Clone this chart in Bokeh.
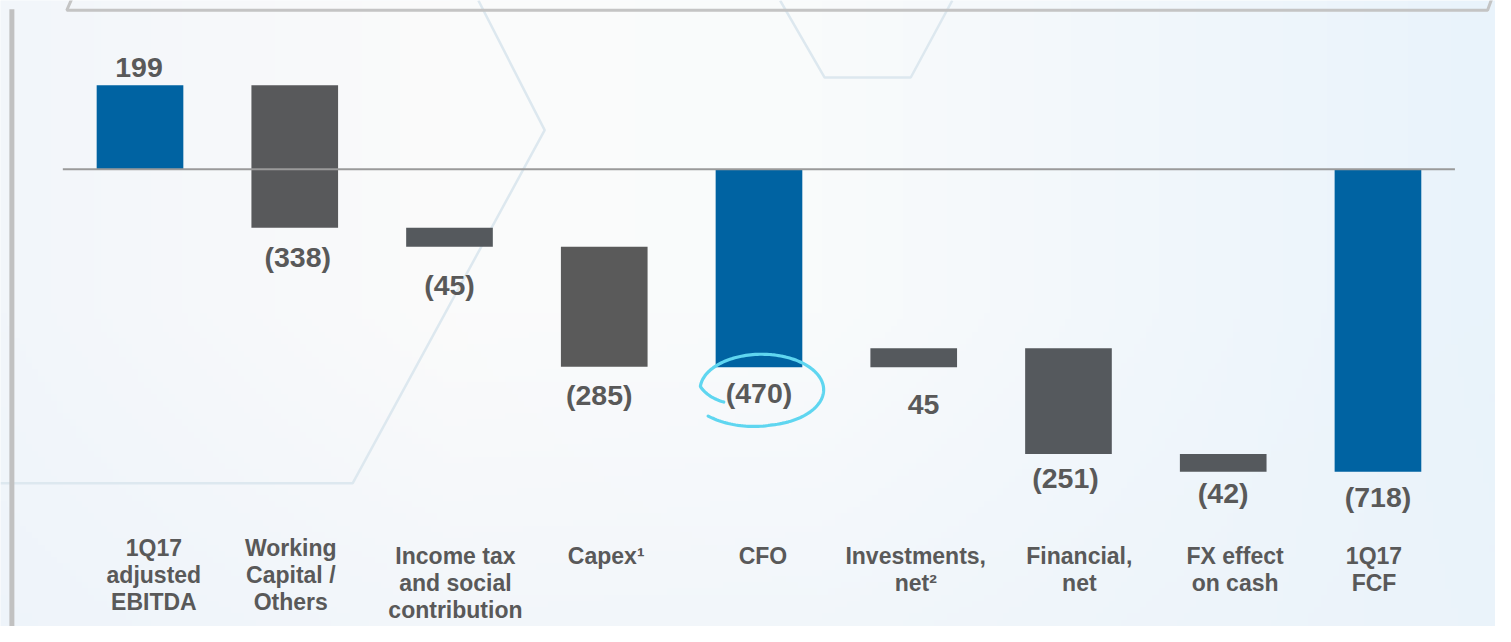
import numpy as np
from bokeh.plotting import figure
from bokeh.models import Range1d, ColumnDataSource
from bokeh.core.properties import value
from bokeh.embed import file_html
from bokeh.resources import INLINE

# ---------------- data ----------------
categories = [
    "1Q17\nadjusted\nEBITDA",
    "Working\nCapital /\nOthers",
    "Income tax\nand social\ncontribution",
    "Capex\u00b9",
    "CFO",
    "Investments,\nnet\u00b2",
    "Financial,\nnet",
    "FX effect\non cash",
    "1Q17\nFCF",
]
values = [199, -338, -45, -285, -470, 45, -251, -42, -718]
bar_kind = ["total", "step", "step", "step", "total", "step", "step", "step", "total"]
value_labels = ["199", "(338)", "(45)", "(285)", "(470)", "45", "(251)", "(42)", "(718)"]
highlight = "(470)"

# ---------------- style / layout ----------------
BLUE = "#0063a2"
GREY_A = "#5a5a5a"
GREY_B = "#55595d"
TEXT = "#595959"
bar_colors = [BLUE, "#58595b", GREY_B, GREY_A, BLUE, GREY_B, GREY_B, GREY_B, BLUE]
val_dx = [-1, 3, 0, -5, 0, 10, -3, 0, 0]          # px nudges of value labels
val_dy = [-18, 30, 39, 29, 27, 38, 25, 22, 26]     # px distance from bar edge
cat_dx = [14, -4, 6, 2, 4, 2, 11, 12, -4]          # px nudges of category labels
cat_base = [562, 562, 570, 570, 570, 570, 570, 570, 570]  # first baseline (design px)

REF_W, REF_H = 1511, 642          # design canvas
W, H = 1495, 626                  # figure size (fits the 8px page margin)
SX, SY = W / REF_W, H / REF_H
PX_PER_CAT = 156.4                # design px per category
PX_PER_UNIT = 0.432               # design px per value unit
X0 = 141                          # design px of first category centre
BASE = 173                        # design px of zero line

x_range = Range1d(-X0 / PX_PER_CAT, (REF_W - X0) / PX_PER_CAT)
y_range = Range1d(-(REF_H - BASE) / PX_PER_UNIT, BASE / PX_PER_UNIT)


def px_x(px):
    return (px - X0) / PX_PER_CAT


def px_y(py):
    return (BASE - py) / PX_PER_UNIT


p = figure(width=W, height=H, x_range=x_range, y_range=y_range,
           output_backend="svg", toolbar_location=None, min_border=0)
p.axis.visible = False
p.grid.visible = False
p.outline_line_color = None
p.background_fill_color = "#f6f9fb"
p.border_fill_color = "#f6f9fb"

# ---------------- background gradient ----------------
nx, ny = 240, 100
fx = np.linspace(0, 1, nx)
fy = np.linspace(0, 1, ny)  # 0 = bottom
stops = [0.0, 0.3, 0.55, 1.0]
cols = np.array([(242, 246, 250), (251, 251, 251), (249, 251, 252), (233, 243, 251)], dtype=float)
row = np.stack([np.interp(fx, stops, cols[:, c]) for c in range(3)], axis=-1)
img = np.repeat(row[None, :, :], ny, axis=0)
blend = np.clip((0.5 - fy) / 0.5, 0, 1)[:, None, None] * 0.55
bottom_col = np.array([236, 243, 250], dtype=float)[None, None, :]
img = img * (1 - blend) + bottom_col * blend
rgba = np.zeros((ny, nx), dtype=np.uint32)
view = rgba.view(dtype=np.uint8).reshape((ny, nx, 4))
view[:, :, 0] = img[:, :, 0].astype(np.uint8)
view[:, :, 1] = img[:, :, 1].astype(np.uint8)
view[:, :, 2] = img[:, :, 2].astype(np.uint8)
view[:, :, 3] = 255
p.image_rgba(image=[rgba], x=x_range.start, y=y_range.start,
             dw=x_range.end - x_range.start, dh=y_range.end - y_range.start)

# faint hexagon outlines
HEX = "#dde8ef"
p.line([px_x(v) for v in (483, 550, 356, 0)], [px_y(v) for v in (0, 133, 495, 495)],
       line_color=HEX, line_width=2.5)
p.line([px_x(v) for v in (788, 833, 920, 962)], [px_y(v) for v in (0, 79, 79, 0)],
       line_color=HEX, line_width=2.5)

# slide frame elements
p.line([px_x(v) for v in (73, 67, 1503, 1508)], [px_y(v) for v in (-4, 10, 10, -4)],
       line_color="#c4c4c4", line_width=3)
p.line([px_x(11.5), px_x(11.5)], [px_y(9), px_y(660)], line_color="#c1c1c1", line_width=5)

# ---------------- waterfall ----------------
lo_list, hi_list = [], []
run = 0
for v, k in zip(values, bar_kind):
    if k == "total":
        lo, hi = min(0, v), max(0, v)
        run = v
    else:
        new = run + v
        lo, hi = min(run, new), max(run, new)
        run = new
    lo_list.append(lo)
    hi_list.append(hi)

idx = list(range(len(categories)))
src = ColumnDataSource(dict(x=idx, bottom=lo_list, top=hi_list, color=bar_colors))
p.vbar(x="x", width=0.56, bottom="bottom", top="top", fill_color="color",
       line_color=None, source=src)

# zero line
p.line([px_x(63), px_x(1470)], [0, 0], line_color="#9a9a9a", line_width=2)

# value labels
anchor_y = []
for v, k, lo, hi in zip(values, bar_kind, lo_list, hi_list):
    anchor_y.append(hi if (k == "total" and v > 0) else lo)
vsrc = ColumnDataSource(dict(x=idx, y=anchor_y, t=value_labels,
                             xo=[d * SX for d in val_dx], yo=[d * SY for d in val_dy]))
p.text(x="x", y="y", text="t", x_offset="xo", y_offset="yo", source=vsrc,
       text_font=value("Liberation Sans"), text_font_style="bold",
       text_font_size="28.5px", text_color=TEXT, text_align="center",
       text_baseline="middle")

# category labels (one glyph per line)
cx, cy, ct, cxo, cyo = [], [], [], [], []
LINE = 27.5
for i, (c, dx, b) in enumerate(zip(categories, cat_dx, cat_base)):
    for j, ln in enumerate(c.split("\n")):
        cx.append(i)
        cy.append(0)
        ct.append(ln)
        cxo.append(dx * SX)
        cyo.append((b - BASE + LINE * j) * SY)
csrc = ColumnDataSource(dict(x=cx, y=cy, t=ct, xo=cxo, yo=cyo))
p.text(x="x", y="y", text="t", x_offset="xo", y_offset="yo", source=csrc,
       text_font=value("Liberation Sans"), text_font_style="bold",
       text_font_size="23px", text_color=TEXT, text_align="center",
       text_baseline="alphabetic")

# hand-drawn circle around the highlighted value
hi_i = value_labels.index(highlight)
ccx = hi_i + 2.5 / PX_PER_CAT
ccy = lo_list[hi_i] - (val_dy[hi_i] - 4) / PX_PER_UNIT
phi = np.radians(np.linspace(150, 499, 160))
r = np.interp(np.degrees(phi), [150, 185, 440, 499], [0.71, 1.0, 1.02, 1.15])
rx, ry = 62, 36
ex = ccx + r * rx * np.cos(phi) / PX_PER_CAT
ey = ccy - r * ry * np.sin(phi) / PX_PER_UNIT
p.line(ex, ey, line_color="#5fd6f0", line_width=3.2, line_cap="round")

open("out.html", "w").write(file_html(p, INLINE))
